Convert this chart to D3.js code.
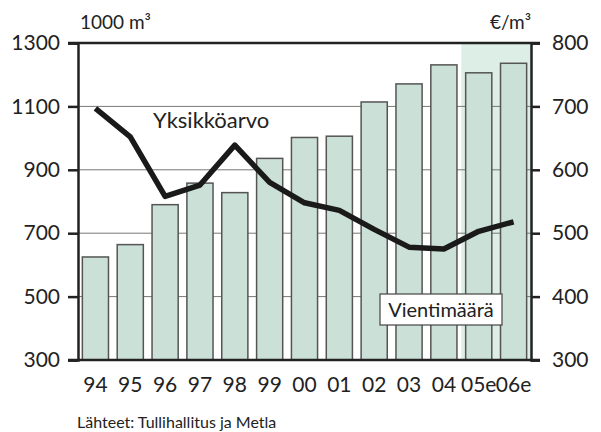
<!DOCTYPE html>
<html><head><meta charset="utf-8">
<script src="https://cdn.jsdelivr.net/npm/d3@7/dist/d3.min.js"></script>
<style>body{margin:0;background:#fff}svg{display:block}text{font-family:Lato,"DejaVu Sans",sans-serif;fill:#222}</style>
</head><body><svg id="c" width="601" height="432"></svg>
<script>
const categories = ["94","95","96","97","98","99","00","01","02","03","04","05e","06e"];
const volume = [625, 664, 790, 858, 828, 936, 1002, 1006, 1114, 1171, 1231, 1206, 1236]; // 1000 m³ (left)
const unitValue = [697, 652, 558, 576, 639, 580, 548, 536, 506, 478, 475, 503, 518]; // €/m³ (right)
const leftTicks = [300, 500, 700, 900, 1100, 1300];
const rightTicks = [300, 400, 500, 600, 700, 800];
const estimated = ["05e","06e"];

const svg = d3.select("#c");
const L = 78, R = 531, T = 43, B = 360;
const x = d3.scaleBand().domain(categories).range([L, R]).paddingInner(0.25).paddingOuter(0.125);
const yL = d3.scaleLinear().domain([300, 1300]).range([B, T]);
const yR = d3.scaleLinear().domain([300, 800]).range([B, T]);

// shaded estimate region
const step = x.step();
const sx = x(estimated[0]) - step * 0.125;
svg.append("rect").attr("x", sx).attr("y", T).attr("width", R - sx).attr("height", B - T).attr("fill", "#ddeee7");

// gridlines
svg.append("g").selectAll("line").data(leftTicks.slice(1, -1)).join("line")
  .attr("x1", L).attr("x2", R).attr("y1", d => yL(d)).attr("y2", d => yL(d))
  .attr("stroke", "#777").attr("stroke-width", 1);

// bars
svg.append("g").selectAll("rect").data(categories).join("rect")
  .attr("x", d => x(d)).attr("width", x.bandwidth())
  .attr("y", (d, i) => yL(volume[i])).attr("height", (d, i) => B - yL(volume[i]))
  .attr("fill", "#cbe0d6").attr("stroke", "#555").attr("stroke-width", 1.5);

// axes
const axL = d3.axisLeft(yL).tickValues(leftTicks).tickSize(10).tickPadding(8).tickFormat(d3.format("d"));
const gL = svg.append("g").attr("transform", `translate(${L},0)`).call(axL);
const axR = d3.axisRight(yR).tickValues(rightTicks).tickSize(9).tickPadding(12).tickFormat(d3.format("d"));
const gR = svg.append("g").attr("transform", `translate(${R},0)`).call(axR);
[gL, gR].forEach(g => {
  g.select(".domain").attr("stroke", "#222").attr("stroke-width", 2.5);
  g.selectAll(".tick line").attr("stroke", "#222").attr("stroke-width", 2.5);
  g.selectAll(".tick text").attr("font-size", 21).attr("font-family", "Lato, sans-serif").attr("fill", "#222");
});
// top and bottom frame lines
[T, B].forEach(yy => svg.append("line").attr("x1", L - 10).attr("x2", R + 9).attr("y1", yy).attr("y2", yy)
  .attr("stroke", "#222").attr("stroke-width", 2.5));

// x labels
const axB = d3.axisBottom(x).tickSize(0).tickPadding(17);
const gB = svg.append("g").attr("transform", `translate(0,${B})`).call(axB);
gB.select(".domain").remove();
gB.selectAll(".tick text").attr("font-size", 21).attr("font-family", "Lato, sans-serif").attr("fill", "#222");

// line
const line = d3.line().x((d, i) => x(categories[i]) + x.bandwidth() / 2).y(d => yR(d));
svg.append("path").datum(unitValue).attr("d", line).attr("fill", "none")
  .attr("stroke", "#1a1a1a").attr("stroke-width", 5.5).attr("stroke-linejoin", "round").attr("stroke-linecap", "butt");

// labels
svg.append("text").attr("x", 80).attr("y", 29).attr("font-size", 19).text("1000 m³");
svg.append("text").attr("x", 531).attr("y", 29).attr("font-size", 19).attr("text-anchor", "end").text("€/m³");
svg.append("text").attr("x", 153).attr("y", 128).attr("font-size", 22).text("Yksikköarvo");
svg.append("rect").attr("x", 380).attr("y", 294).attr("width", 122).attr("height", 31)
  .attr("fill", "#fff").attr("stroke", "#444").attr("stroke-width", 1.2);
svg.append("text").attr("x", 441).attr("y", 317).attr("font-size", 20).attr("text-anchor", "middle").text("Vientimäärä");
svg.append("text").attr("x", 77).attr("y", 428).attr("font-size", 16).text("Lähteet: Tullihallitus ja Metla");
</script></body></html>
